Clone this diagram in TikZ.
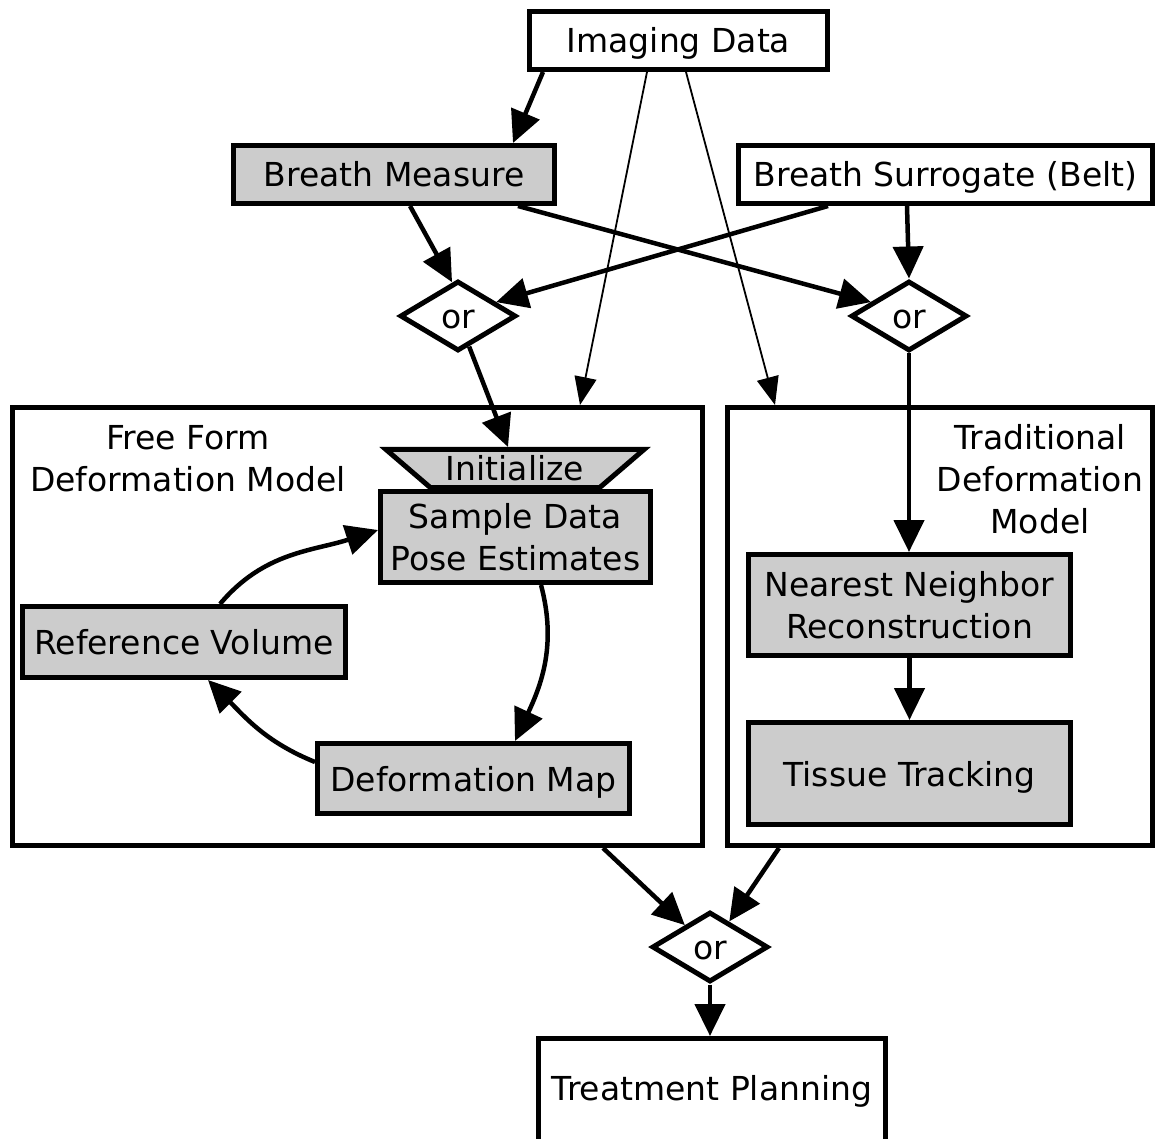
\documentclass[tikz,border=0pt]{standalone}
\usepackage{fontspec}
\setmainfont{DejaVu Sans}
\usetikzlibrary{positioning, arrows.meta, shapes}
\definecolor{boxgray}{HTML}{CCCCCC}

\begin{document}
\begin{tikzpicture}[x=1pt,y=1pt,
    every node/.style={font=\fontsize{33}{42}\selectfont, inner sep=0pt},
    oneline/.style={text height=25pt, text depth=0pt},
    box/.style={draw, line width=5pt, rectangle, align=center, fill=white},
    graybox/.style={box, fill=boxgray},
    orgate/.style={draw, line width=5pt, diamond, fill=white, oneline,
        minimum width=116pt, minimum height=70pt},
    flow/.style={-{Triangle[length=32pt,width=30pt]}, line width=4.5pt},
    thinflow/.style={-{Triangle[length=28pt,width=22pt]}, line width=1.8pt}]
    \useasboundingbox (0,0) rectangle (1157,-1139);

    % sources
    \node[box, oneline, minimum width=298pt, minimum height=58pt] (imaging) at (678.5,-40.5) {Imaging Data};
    \node[graybox, oneline, minimum width=321pt, minimum height=58pt] (measure) at (394,-174.5) {Breath Measure};
    \node[box, oneline, minimum width=414pt, minimum height=58pt] (belt) at (945.5,-174.5) {Breath Surrogate (Belt)};

    \node[orgate] (orleft) at (458,-316) {or};
    \node[orgate] (orright) at (909,-316) {or};

    % the two models
    \node[box, minimum width=690pt, minimum height=438pt] (freeform) at (357.5,-626.5) {};
    \node[box, minimum width=425pt, minimum height=438pt] (traditional) at (940,-626.5) {};
    \node[align=center] (freeformlabel) at (188,-459) {Free Form\\Deformation Model};
    \node[align=center] (tradlabel) at (1040,-479.5) {Traditional\\Deformation\\Model};

    \node[graybox, trapezium, shape border rotate=180, trapezium angle=30,
        trapezium stretches body, minimum width=258pt, minimum height=38pt] (init) at (515,-468.5) {\makebox[0pt]{Initialize}};
    \node[graybox, minimum width=270pt, minimum height=91pt] (sample) at (515.5,-537) {Sample Data\\Pose Estimates};
    \node[graybox, oneline, minimum width=323pt, minimum height=71pt] (refvol) at (184,-642) {Reference Volume};
    \node[graybox, oneline, minimum width=312pt, minimum height=70pt] (defmap) at (473.5,-778.5) {Deformation Map};

    \node[graybox, minimum width=322pt, minimum height=101pt] (neighbor) at (909.5,-605) {Nearest Neighbor\\Reconstruction};
    \node[graybox, oneline, minimum width=322pt, minimum height=102pt] (tissue) at (909.5,-773.5) {Tissue Tracking};

    \node[orgate] (orbottom) at (710,-947) {or};
    \node[box, minimum width=347pt, minimum height=120pt, text depth=22pt] (planning) at (712,-1098.5) {Treatment Planning};

    %putting arrows:
    \draw[flow] ([xshift=-135.5pt]imaging.south) -- ([xshift=119pt]measure.north);
    \draw[thinflow] ([xshift=-31.5pt]imaging.south) -- ([xshift=222.5pt]freeform.north);
    \draw[thinflow] ([xshift=7.5pt]imaging.south) -- ([xshift=-165pt]traditional.north);

    \draw[flow] ([xshift=16pt]measure.south) -- (orleft.100);
    \draw[flow] ([xshift=124pt]measure.south) -- (orright.160);
    \draw[flow] ([xshift=-117.5pt]belt.south) -- (orleft.20);
    \draw[flow] ([xshift=-38.5pt]belt.south) -- (orright.north);

    \draw[flow] (orleft.-70) -- ([xshift=-7pt]init.north);
    \draw[flow] (orright.south) -- (orright.south |- neighbor.north);
    \draw[flow] (neighbor.south) -- (tissue.north);

    \draw[flow] ([xshift=36pt]refvol.north) to[out=50,in=198] ([yshift=7pt]sample.west);
    \draw[flow] ([xshift=25.5pt]sample.south) to[out=-75,in=65] ([xshift=41.5pt]defmap.north);
    \draw[flow] ([yshift=16.5pt]defmap.west) to[out=158,in=-45] ([xshift=24pt]refvol.south);

    \draw[flow] ([xshift=245.5pt]freeform.south) -- (orbottom.139);
    \draw[flow] ([xshift=-161pt]traditional.south) -- (orbottom.53);
    \draw[flow] (orbottom.south) -- (orbottom.south |- planning.north);
\end{tikzpicture}
\end{document}
